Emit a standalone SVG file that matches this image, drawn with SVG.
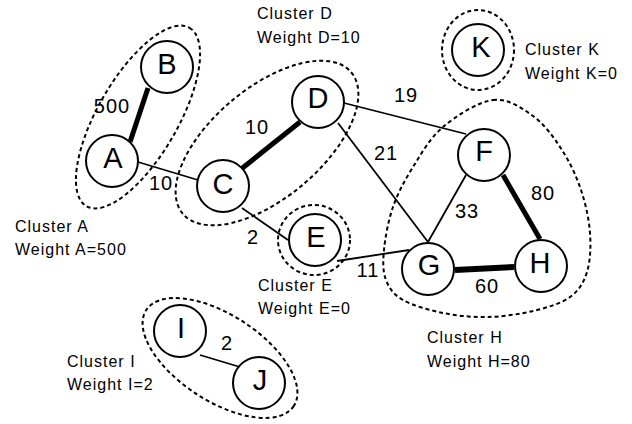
<svg xmlns="http://www.w3.org/2000/svg" width="632" height="424" viewBox="0 0 632 424">
<style>
.cl{fill:none;stroke:#000;stroke-width:2;stroke-dasharray:4 3}
.e{stroke:#000;stroke-width:1.8;fill:none}
.t{stroke:#000;stroke-width:5;fill:none}
.n circle{fill:#fff;stroke:#000;stroke-width:2}
.n text{font-family:"Liberation Sans",Arial,sans-serif;font-size:29px;text-anchor:middle;fill:#000}
.el{font-family:"Liberation Sans",Arial,sans-serif;font-size:20px;letter-spacing:1px;text-anchor:middle;fill:#000}
.ct{font-family:"Liberation Sans",Arial,sans-serif;font-size:16px;letter-spacing:1px;fill:#000}
</style>
<rect width="632" height="424" fill="#fff"/>
<g id="clusters">
<ellipse id="clusterA" class="cl" cx="138" cy="117" rx="103" ry="40" transform="rotate(-60 138 117)"/>
<ellipse id="clusterD" class="cl" cx="267" cy="143" rx="110" ry="55" transform="rotate(-40 267 143)"/>
<ellipse id="clusterE" class="cl" cx="314" cy="240" rx="36" ry="35"/>
<ellipse id="clusterK" class="cl" cx="478" cy="50" rx="36" ry="40"/>
<ellipse id="clusterI" class="cl" cx="220" cy="358" rx="88" ry="43" transform="rotate(33 220 358)"/>
<path id="clusterH" class="cl" d="M493,100 C508,98.2 521.5,107.7 533,116 C544.5,124.3 554,137.7 562,150 C570,162.3 576.3,176.2 581,190 C585.7,203.8 589,219.3 590,233 C591,246.7 590.3,261.3 587,272 C583.7,282.7 579,290.5 570,297 C561,303.5 546.8,307.7 533,311 C519.2,314.3 502,316.7 487,317 C472,317.3 457,315.8 443,313 C429,310.2 412.5,305.5 403,300 C393.5,294.5 389.2,288.3 386,280 C382.8,271.7 382.8,262.2 384,250 C385.2,237.8 388.2,220.8 393,207 C397.8,193.2 404.7,180.3 413,167 C421.3,153.7 429.7,138.2 443,127 C456.3,115.8 478,101.8 493,100 Z"/>
</g>
<g id="connectors">
<line class="t" x1="130" y1="142" x2="148" y2="88"/>
<line class="e" x1="138" y1="162" x2="198" y2="180"/>
<line class="t" x1="240" y1="170" x2="300" y2="122"/>
<line class="e" x1="242" y1="208" x2="288" y2="240"/>
<line class="e" x1="344" y1="103" x2="466" y2="134"/>
<line class="e" x1="338" y1="123" x2="428" y2="242"/>
<line class="e" x1="337" y1="261" x2="409" y2="250"/>
<line class="e" x1="466" y1="175" x2="428" y2="242"/>
<line class="t" x1="503" y1="175" x2="540" y2="239"/>
<line class="t" x1="455" y1="270" x2="514" y2="267" style="stroke-width:6"/>
<line class="e" x1="200" y1="355" x2="240" y2="367"/>
<text class="el" x="112" y="113">500</text>
<text class="el" x="161" y="190">10</text>
<text class="el" x="257" y="134">10</text>
<text class="el" x="253" y="244">2</text>
<text class="el" x="406" y="102">19</text>
<text class="el" x="386" y="160">21</text>
<text class="el" x="368" y="277">11</text>
<text class="el" x="467" y="218">33</text>
<text class="el" x="543" y="200">80</text>
<text class="el" x="487" y="293">60</text>
<text class="el" x="227" y="350">2</text>
</g>
<g id="A" class="n"><circle cx="112" cy="161" r="26"/><text x="113" y="168">A</text></g>
<g id="B" class="n"><circle cx="167" cy="67" r="26"/><text x="167" y="74">B</text></g>
<g id="C" class="n"><circle cx="223" cy="186" r="26"/><text x="223" y="194">C</text></g>
<g id="D" class="n"><circle cx="318" cy="102" r="26"/><text x="318" y="108">D</text></g>
<g id="E" class="n"><circle cx="315" cy="240" r="26"/><text x="316" y="247">E</text></g>
<g id="F" class="n"><circle cx="484" cy="155" r="26"/><text x="484" y="161">F</text></g>
<g id="G" class="n"><circle cx="428" cy="269" r="26"/><text x="429" y="275">G</text></g>
<g id="H" class="n"><circle cx="541" cy="266" r="26"/><text x="540" y="273">H</text></g>
<g id="I" class="n"><circle cx="180" cy="331" r="26"/><text x="181" y="338">I</text></g>
<g id="J" class="n"><circle cx="259" cy="383" r="26"/><text x="260" y="390">J</text></g>
<g id="K" class="n"><circle cx="478" cy="50" r="26"/><text x="481" y="57">K</text></g>
<g id="labels">
<text class="ct" x="15" y="232">Cluster A</text>
<text class="ct" x="15" y="255">Weight A=500</text>
<text class="ct" x="257" y="19">Cluster D</text>
<text class="ct" x="257" y="43">Weight D=10</text>
<text class="ct" x="258" y="291">Cluster E</text>
<text class="ct" x="258" y="314">Weight E=0</text>
<text class="ct" x="525" y="55">Cluster K</text>
<text class="ct" x="525" y="79">Weight K=0</text>
<text class="ct" x="427" y="343">Cluster H</text>
<text class="ct" x="427" y="367">Weight H=80</text>
<text class="ct" x="67" y="367">Cluster I</text>
<text class="ct" x="67" y="390">Weight I=2</text>
</g>
</svg>
